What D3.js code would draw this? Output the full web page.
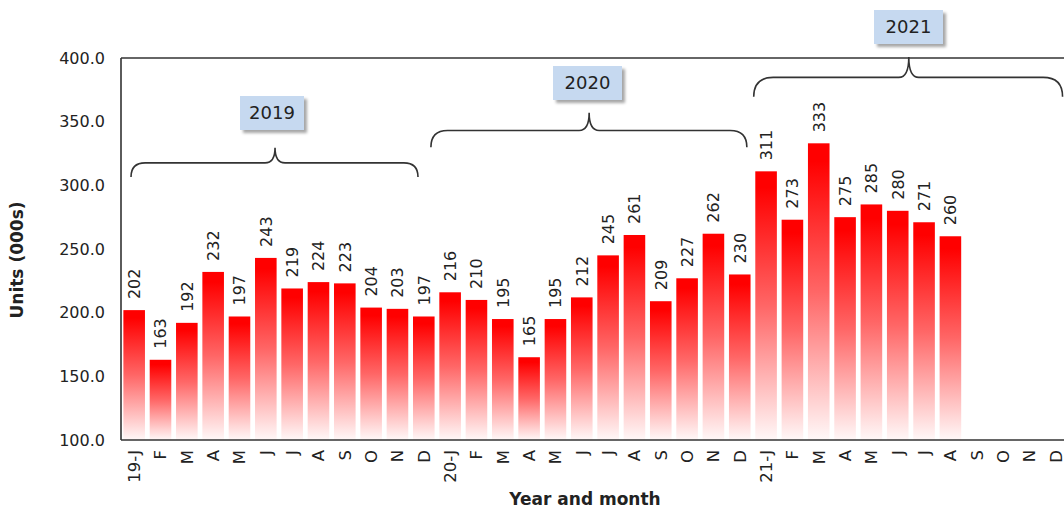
<!DOCTYPE html>
<html>
<head>
<meta charset="utf-8">
<script src="https://cdn.jsdelivr.net/npm/d3@7"></script>
<style>
  html, body { margin: 0; padding: 0; background: #ffffff; }
  svg { display: block; }
</style>
</head>
<body>
<svg id="chart" width="1064" height="510"></svg>
<script>
// Monthly units (thousands), January 2019 through December 2021
const months = [
  "19-J","F","M","A","M","J","J","A","S","O","N","D",
  "20-J","F","M","A","M","J","J","A","S","O","N","D",
  "21-J","F","M","A","M","J","J","A","S","O","N","D"
];
const values2019 = [202,163,192,232,197,243,219,224,223,204,203,197];
const values2020 = [216,210,195,165,195,212,245,261,209,227,262,230];
const values2021 = [311,273,333,275,285,280,271,260];
const yTicks = [100,150,200,250,300,350,400];
const years = ["2019","2020","2021"];

const series = values2019.concat(values2020, values2021);
// unique keys so repeated month letters get their own bands
const keys = months.map((m, i) => i);
const data = series.map((v, i) => ({ key: i, value: v }));

const svg = d3.select("#chart");
const plotLeft = 121, plotTop = 58, plotBottom = 440;
const step = 26.33;
const plotRight = plotLeft + step * months.length;

const x = d3.scaleBand().domain(keys).range([plotLeft, plotRight])
  .paddingInner(0.18).paddingOuter(0.09);
const y = d3.scaleLinear().domain([100, 400]).range([plotBottom, plotTop]);

const textColor = "#222222";
const tickFont = "DejaVu Sans, sans-serif";

// vertical gradient per bar: saturated red at the top fading to white
const defs = svg.append("defs");
const grad = defs.append("linearGradient")
  .attr("id", "barFill").attr("x1", 0).attr("y1", 0).attr("x2", 0).attr("y2", 1);
grad.append("stop").attr("offset", 0).attr("stop-color", "#ff0000");
grad.append("stop").attr("offset", 0.06).attr("stop-color", "#ff0000");
grad.append("stop").attr("offset", 0.5).attr("stop-color", "#ff6666");
grad.append("stop").attr("offset", 1).attr("stop-color", "#fff8f8");

const shadow = defs.append("filter").attr("id", "boxShadow")
  .attr("x", "-20%").attr("y", "-20%").attr("width", "150%").attr("height", "160%");
shadow.append("feDropShadow").attr("dx", 3).attr("dy", 3)
  .attr("stdDeviation", 1.6).attr("flood-color", "#000").attr("flood-opacity", 0.35);

// bars
svg.append("g").selectAll("rect").data(data).join("rect")
  .attr("x", d => x(d.key))
  .attr("y", d => y(d.value))
  .attr("width", x.bandwidth())
  .attr("height", d => y(100) - y(d.value))
  .attr("fill", "url(#barFill)");

// value labels, rotated above each bar
svg.append("g").selectAll("text").data(data).join("text")
  .attr("transform", d => `translate(${x(d.key) + x.bandwidth() / 2},${y(d.value) - 11}) rotate(-90)`)
  .attr("dy", "0.36em")
  .attr("text-anchor", "start")
  .attr("font-family", tickFont)
  .attr("font-size", 16)
  .attr("fill", textColor)
  .text(d => d.value);

// frame: left, top and bottom rules
const frame = svg.append("g").attr("stroke", "#333").attr("stroke-width", 1.6).attr("fill", "none");
frame.append("line").attr("x1", plotLeft).attr("x2", plotLeft).attr("y1", plotTop).attr("y2", plotBottom);
frame.append("line").attr("x1", plotLeft).attr("x2", plotRight).attr("y1", plotTop).attr("y2", plotTop);
frame.append("line").attr("x1", plotLeft).attr("x2", plotRight).attr("y1", plotBottom).attr("y2", plotBottom);

// y axis
const yAxis = svg.append("g")
  .attr("transform", `translate(${plotLeft},0)`)
  .call(d3.axisLeft(y).tickValues(yTicks).tickFormat(d3.format(".1f")).tickSize(0).tickPadding(16));
yAxis.select(".domain").remove();
yAxis.selectAll("text")
  .attr("font-family", tickFont).attr("font-size", 16).attr("fill", textColor);

// x axis with rotated month letters
const xAxis = svg.append("g")
  .attr("transform", `translate(0,${plotBottom})`)
  .call(d3.axisBottom(x).tickFormat(i => months[i]).tickSize(0));
xAxis.select(".domain").remove();
xAxis.selectAll("text")
  .attr("transform", "rotate(-90)")
  .attr("text-anchor", "end")
  .attr("x", -10)
  .attr("y", 0)
  .attr("dy", "0.36em")
  .attr("font-family", tickFont).attr("font-size", 16.5).attr("fill", textColor);

// axis titles
svg.append("text")
  .attr("x", 585).attr("y", 505)
  .attr("text-anchor", "middle")
  .attr("font-family", "DejaVu Sans, sans-serif").attr("font-weight", "bold")
  .attr("font-size", 17).attr("fill", textColor)
  .text("Year and month");
svg.append("text")
  .attr("transform", "translate(23,260) rotate(-90)")
  .attr("text-anchor", "middle")
  .attr("font-family", "DejaVu Sans, sans-serif").attr("font-weight", "bold")
  .attr("font-size", 17).attr("fill", textColor)
  .text("Units (000s)");

// year braces: positions in band units along x and value units along y
const band = d3.scaleLinear().domain([0, months.length]).range([plotLeft, plotRight]);
const braces = [
  { x0: 0.38, x1: 11.28, tip: 5.85, yEnd: 306.5, yTip: 329.5, box: [240, 96] },
  { x0: 11.77, x1: 23.77, tip: 17.78, yEnd: 330, yTip: 357, box: [553, 66] },
  { x0: 24.03, x1: 35.76, tip: 29.92, yEnd: 369.5, yTip: 400.8, box: [874, 10] }
];
const bracePath = b => {
  const xa = band(b.x0), xb = band(b.x1), xt = band(b.tip);
  const ye = y(b.yEnd), yt = y(b.yTip);
  const yh = (ye + yt) / 2 + 0.5;
  const r = ye - yh, rt = 10;
  return `M${xa},${ye} Q${xa},${yh} ${xa + r},${yh} L${xt - rt},${yh} Q${xt},${yh} ${xt},${yt}` +
         ` Q${xt},${yh} ${xt + rt},${yh} L${xb - r},${yh} Q${xb},${yh} ${xb},${ye}`;
};
svg.append("g").selectAll("path").data(braces).join("path")
  .attr("d", bracePath)
  .attr("fill", "none").attr("stroke", "#333").attr("stroke-width", 1.6);

const boxes = svg.append("g").selectAll("g").data(braces).join("g")
  .attr("transform", b => `translate(${b.box[0]},${b.box[1]})`);
boxes.append("rect")
  .attr("width", (b, i) => i === 0 ? 64 : 69).attr("height", 34)
  .attr("fill", "#c6d9f0").attr("filter", "url(#boxShadow)");
boxes.append("text")
  .attr("x", (b, i) => (i === 0 ? 64 : 69) / 2).attr("y", 17).attr("dy", "0.36em")
  .attr("text-anchor", "middle")
  .attr("font-family", tickFont).attr("font-size", 18).attr("fill", textColor)
  .text((b, i) => years[i]);
</script>
</body>
</html>
